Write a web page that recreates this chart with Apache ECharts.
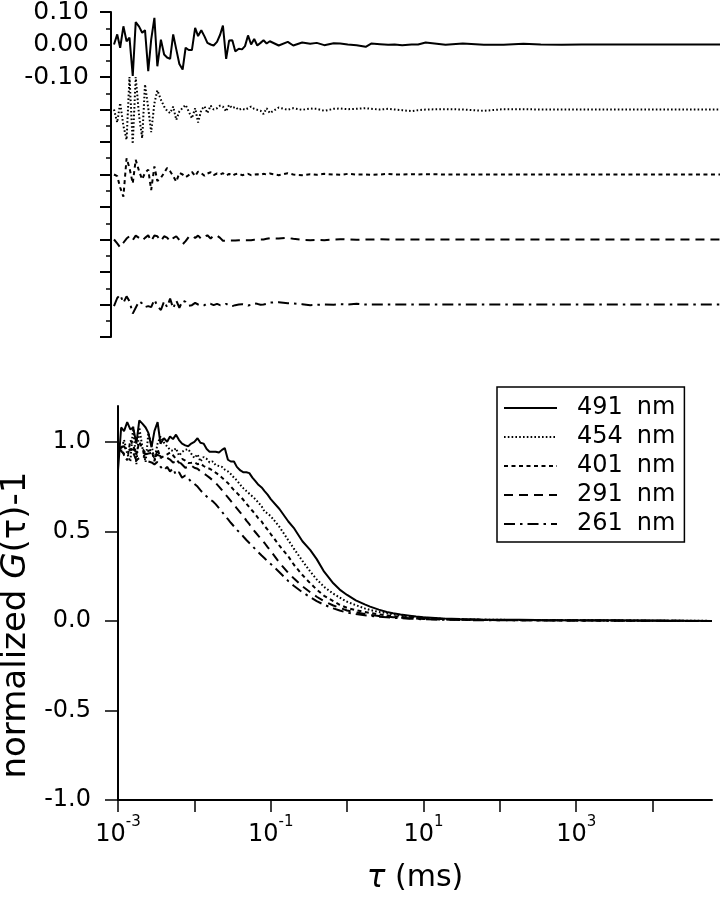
<!DOCTYPE html>
<html>
<head>
<meta charset="utf-8">
<script src="https://cdn.jsdelivr.net/npm/echarts@6/dist/echarts.min.js"></script>
<style>
html,body{margin:0;padding:0;background:#fff;}
#chart{width:723px;height:899px;}
</style>
</head>
<body>
<div id="chart"></div>
<script>
// lag time tau (ms)
const tau = [
  0.001,0.0011,0.0012,0.00132,0.00145,0.00158,0.00174,0.0019,0.0021,0.0023,0.0025,0.00275,0.003,0.0033,0.0036,0.004,0.0044,0.0048,0.00525,0.00575,0.0063,0.0069,0.0076,0.0083,0.0091,
  0.01,0.011,0.012,0.0132,0.0145,0.0158,0.0174,0.019,0.021,0.023,0.025,0.0275,0.03,0.033,0.036,0.04,0.044,0.048,0.0525,0.0575,0.063,0.069,0.076,0.083,0.091,
  0.1,0.13,0.17,0.2,0.26,0.33,0.4,0.5,0.66,0.8,1,1.3,1.7,2,2.6,3.3,4,5,6.6,8,
  10,18,30,56,100,180,300,560,1000,1800,3000,5600,10000,18000,30000,60000
];
const names = ['491 nm','454 nm','401 nm','291 nm','261 nm'];
// normalized G(tau)-1
const g491 = [0.84,1.08,1.06,1.11,1.07,1.08,0.99,1.12,1.10,1.08,1.05,0.97,1.06,1.11,0.99,1.02,1.00,1.03,1.015,1.04,1.01,0.99,0.98,0.975,0.99,
  1.00,1.02,0.995,0.99,0.96,0.945,0.945,0.945,0.94,0.955,0.965,0.90,0.89,0.89,0.86,0.84,0.83,0.83,0.825,0.80,0.78,0.76,0.745,0.725,0.705,
  0.68,0.625,0.555,0.52,0.445,0.395,0.345,0.275,0.21,0.175,0.145,0.115,0.092,0.08,0.063,0.05,0.043,0.036,0.029,0.024,
  0.02,0.013,0.01,0.008,0.007,0.006,0.005,0.004,0.004,0.003,0.003,0.002,0.002,0.001,0.001,0.0];
const g454 = [0.99,0.95,1.01,0.935,0.89,1.085,0.875,1.08,0.96,0.887,1.05,0.98,0.90,0.99,1.03,0.995,0.974,0.956,0.949,0.964,0.923,0.944,0.955,0.959,0.934,
  0.91,0.93,0.89,0.915,0.905,0.885,0.89,0.87,0.865,0.86,0.845,0.835,0.82,0.80,0.785,0.76,0.74,0.725,0.71,0.695,0.68,0.66,0.64,0.61,0.60,
  0.585,0.525,0.45,0.405,0.335,0.275,0.232,0.19,0.152,0.13,0.107,0.088,0.07,0.061,0.05,0.043,0.037,0.031,0.025,0.021,
  0.018,0.012,0.009,0.007,0.006,0.005,0.004,0.004,0.003,0.003,0.002,0.002,0.001,0.001,0.001,0.0];
const g401 = [0.97,0.965,0.925,0.897,1.01,0.98,0.928,1.00,0.96,0.935,0.95,0.955,0.892,0.96,0.91,0.92,0.93,0.94,0.925,0.905,0.883,0.905,0.895,0.882,0.883,
  0.885,0.875,0.88,0.865,0.855,0.85,0.84,0.828,0.815,0.80,0.785,0.77,0.75,0.73,0.715,0.695,0.675,0.655,0.635,0.615,0.595,0.572,0.555,0.53,0.51,
  0.485,0.42,0.36,0.315,0.256,0.21,0.175,0.14,0.11,0.09,0.073,0.06,0.05,0.044,0.037,0.031,0.027,0.023,0.019,0.016,
  0.014,0.01,0.008,0.006,0.005,0.004,0.004,0.003,0.003,0.002,0.002,0.002,0.001,0.001,0.0,0.0];
const g291 = [0.965,0.948,0.934,0.945,0.953,0.958,0.943,0.952,0.942,0.930,0.935,0.938,0.915,0.927,0.92,0.901,0.91,0.901,0.885,0.889,0.89,0.873,0.855,0.86,0.868,
  0.855,0.85,0.835,0.825,0.812,0.80,0.785,0.77,0.75,0.73,0.71,0.69,0.67,0.648,0.628,0.605,0.585,0.56,0.54,0.515,0.495,0.475,0.455,0.435,0.412,
  0.39,0.325,0.268,0.238,0.193,0.16,0.135,0.11,0.086,0.073,0.058,0.048,0.039,0.034,0.028,0.024,0.021,0.018,0.015,0.013,
  0.011,0.008,0.006,0.005,0.004,0.004,0.003,0.003,0.002,0.002,0.002,0.001,0.001,0.001,0.0,0.0];
const g261 = [0.95,0.97,0.975,0.945,0.96,0.94,0.897,0.91,0.922,0.908,0.89,0.885,0.874,0.889,0.861,0.841,0.86,0.834,0.852,0.814,0.83,0.80,0.812,0.798,0.776,
  0.765,0.75,0.73,0.71,0.695,0.68,0.668,0.652,0.63,0.61,0.588,0.568,0.548,0.528,0.508,0.49,0.47,0.452,0.435,0.418,0.40,0.383,0.365,0.35,0.332,
  0.318,0.272,0.222,0.196,0.16,0.132,0.11,0.09,0.07,0.058,0.046,0.038,0.031,0.028,0.023,0.02,0.017,0.015,0.012,0.011,
  0.009,0.007,0.005,0.004,0.004,0.003,0.003,0.002,0.002,0.002,0.001,0.001,0.001,0.0,0.0,0.0];
// fit residuals
const r491 = [0.0,0.031,-0.010,0.056,0.010,0.021,-0.097,0.069,0.055,0.036,0.044,-0.082,0.015,0.082,-0.067,0.015,-0.031,-0.040,-0.044,0.031,-0.015,-0.060,-0.077,-0.010,-0.017,
  -0.017,0.051,0.026,0.044,0.025,0.005,0.0,-0.003,0.008,0.030,0.058,-0.044,0.012,0.013,-0.021,-0.013,-0.015,-0.005,0.028,0.0,0.017,-0.003,0.005,0.013,0.003,
  0.010,-0.003,0.008,-0.003,0.006,0.002,0.005,-0.002,0.004,0.003,0.0,-0.002,-0.007,0.003,0.001,-0.001,0.0,-0.002,0.0,0.0,
  0.006,-0.001,0.003,-0.001,-0.001,0.002,0.0,-0.001,0,0,0,0,0,0,0,0];
const r454 = [0.0,-0.040,0.020,-0.050,-0.093,0.100,-0.106,0.100,-0.020,-0.088,0.077,0.005,-0.070,0.019,0.059,0.030,0.009,-0.004,-0.011,0.009,-0.032,-0.006,0.005,0.014,-0.006,
  -0.027,0.004,-0.040,-0.001,0.010,-0.011,0.012,0.000,0.004,0.012,0.009,-0.006,0.014,0.004,0.008,-0.001,0.003,-0.001,0.004,0.009,0.002,-0.001,-0.004,-0.014,0.004,
  -0.011,0.006,-0.001,0.004,-0.001,0.003,0.002,-0.004,0.002,0.003,0.001,0.002,0.004,0.002,0.0,0.002,0.0,-0.002,-0.005,-0.002,
  0.0,0.001,0.0,-0.004,0.001,0.001,0,0,0,0,0,0,0,0,0,0];
const r401 = [0.0,-0.005,-0.040,-0.068,0.050,0.020,-0.027,0.045,0.010,-0.015,0.005,0.015,-0.048,0.025,-0.020,-0.010,0.005,0.020,0.010,-0.005,-0.022,0.005,0.0,-0.008,-0.002,
  0.008,-0.005,0.009,0.004,-0.004,0.003,0.007,-0.002,0.003,0.0,0.004,-0.003,0.002,-0.004,0.001,0.003,-0.002,0.0,0.002,-0.002,0.0,0.001,-0.001,0.002,0.0,
  0.003,-0.002,0.004,0.0,-0.002,0.001,-0.001,0.002,0.0,-0.001,0.002,0.0,0.0,-0.001,0.0,0.002,0.0,0.0,0.001,0.0,
  0.001,0,0,0,0,0,0,0,0,0,0,0,0,0,0,0];
const r291 = [0.0,-0.012,-0.024,-0.010,0.003,0.010,-0.002,0.012,0.005,-0.003,0.005,0.013,-0.005,0.012,0.010,-0.004,0.010,0.006,-0.005,0.004,0.010,-0.002,-0.015,-0.005,0.008,
  0.012,0.005,0.012,0.002,0.008,0.013,0.003,0.012,0.012,0.005,-0.004,-0.004,-0.003,-0.003,-0.003,-0.002,-0.002,-0.002,-0.002,-0.002,-0.001,-0.001,0.0,0.0,0.002,
  0.004,0.003,0.005,0.002,-0.001,-0.002,-0.001,-0.002,0.0,0.001,0.0,-0.001,0.0,0.0,0.001,0,0,0,0,0,
  0,0,0,0,0,0,0,0,0,0,0,0,0,0,0,0];
const r261 = [-0.005,0.020,0.030,0.005,0.025,0.010,-0.028,-0.010,0.010,0.003,-0.008,-0.005,-0.008,0.015,-0.005,-0.017,0.010,-0.008,0.018,-0.012,0.012,-0.010,0.012,0.008,-0.004,
  -0.002,0.005,0.0,-0.004,-0.002,0.004,0.002,-0.002,0.002,-0.002,-0.002,0.002,-0.003,-0.005,-0.002,0.0,0.001,0.0,-0.003,-0.001,0.003,0.002,-0.001,0.0,0.002,
  0.006,0.007,0.004,0.003,0.001,-0.002,-0.001,0.0,-0.001,0.001,0.0,0.002,0.0,0.0,0.0,0,0,0,0,0,
  0,0,0,0,0,0,0,0,0,0,0,0,0,0,0,0];
// vertical offsets of the residual traces
const residualOffsets = [0, -0.2, -0.4, -0.6, -0.8];
const residualTicks = [0.1, 0, -0.1];
const yTicks = [-1, -0.5, 0, 0.5, 1];
const xTicks = [0.001, 0.01, 0.1, 1, 10, 100, 1000, 10000];
const xLabels = [0.001, 0.1, 10, 1000];

const curves = [g491, g454, g401, g291, g261];
const residuals = [r491, r454, r401, r291, r261];
const dashes = ['solid', [1.6, 2.2], [4, 3.5], [9, 6], [11, 5, 2.5, 5]];
const FF = 'DejaVu Sans';

const series = [];
names.forEach((n, k) => {
  series.push({
    name: n, type: 'line', xAxisIndex: 0, yAxisIndex: 0,
    showSymbol: false, symbol: 'none', silent: true,
    itemStyle: { color: '#000' },
    lineStyle: { color: '#000', width: 2, type: dashes[k] },
    data: tau.map((t, i) => [t, residuals[k][i] + residualOffsets[k]])
  });
});
names.forEach((n, k) => {
  series.push({
    name: n, type: 'line', xAxisIndex: 1, yAxisIndex: 1,
    showSymbol: false, symbol: 'none', silent: true,
    itemStyle: { color: '#000' },
    lineStyle: { color: '#000', width: 2, type: dashes[k] },
    data: tau.map((t, i) => [t, curves[k][i]])
  });
});

const chart = echarts.init(document.getElementById('chart'), null, { renderer: 'canvas' });
chart.setOption({
  animation: false,
  backgroundColor: '#fff',
  grid: [
    { left: 111, right: 3, top: 12, height: 325, containLabel: false, outerBoundsMode: 'none' },
    { left: 118, right: 11, top: 406, bottom: 99, containLabel: false, outerBoundsMode: 'none' }
  ],
  xAxis: [
    { type: 'log', gridIndex: 0, min: 0.000915, max: 60000, show: false },
    { type: 'log', gridIndex: 1, min: 0.001, max: 60000,
      axisLine: { onZero: false, lineStyle: { color: '#000', width: 2 } },
      axisTick: { show: true, length: 12, customValues: xTicks, lineStyle: { color: '#000', width: 1.5 } },
      splitLine: { show: false },
      axisLabel: {
        customValues: xLabels, margin: 15, color: '#000', fontFamily: FF,
        formatter: v => '{b|10}{s|' + Math.round(Math.log10(v)) + '}',
        rich: {
          b: { fontSize: 24, fontFamily: FF, color: '#000', lineHeight: 32, verticalAlign: 'bottom' },
          s: { fontSize: 15, fontFamily: FF, color: '#000', lineHeight: 15, verticalAlign: 'top' }
        }
      },
      name: '{i|τ}{a| (ms)}', nameLocation: 'middle', nameGap: 63,
      nameTextStyle: { rich: {
        i: { fontSize: 31, fontFamily: FF, fontStyle: 'italic', color: '#000' },
        a: { fontSize: 30, fontFamily: FF, color: '#000' }
      } }
    }
  ],
  yAxis: [
    { type: 'value', gridIndex: 0, min: -0.9, max: 0.1, interval: 0.1,
      axisLine: { show: true, onZero: false, lineStyle: { color: '#000', width: 2 } },
      axisTick: { show: true, length: 11, lineStyle: { color: '#000', width: 2 } },
      minorTick: { show: true, splitNumber: 2, length: 5, lineStyle: { color: '#000', width: 1.5 } },
      splitLine: { show: false },
      axisLabel: { customValues: residualTicks, margin: 22, color: '#000', fontFamily: FF, fontSize: 25,
        formatter: v => v.toFixed(2) }
    },
    { type: 'value', gridIndex: 1, min: -1, max: 1.2, interval: 0.5,
      axisLine: { show: true, onZero: false, lineStyle: { color: '#000', width: 2 } },
      axisTick: { show: true, length: 13, customValues: yTicks, lineStyle: { color: '#000', width: 1.5 } },
      splitLine: { show: false },
      axisLabel: { customValues: yTicks, margin: 27, color: '#000', fontFamily: FF, fontSize: 24,
        formatter: v => v.toFixed(1) },
      name: '{a|normalized }{i|G}{a|(τ)-1}', nameLocation: 'middle', nameGap: 82,
      nameTextStyle: { padding: [0, 44, 0, 0], rich: {
        a: { fontSize: 34, fontFamily: FF, color: '#000' },
        i: { fontSize: 34, fontFamily: FF, fontStyle: 'italic', color: '#000' }
      } }
    }
  ],
  legend: {
    data: names, orient: 'vertical', left: 497, top: 387,
    itemWidth: 53, itemHeight: 14, itemGap: 5,
    padding: [9, 9, 6, 6], borderColor: '#000', borderWidth: 1.5,
    selectedMode: false, inactiveColor: '#000',
    itemStyle: { opacity: 0, borderWidth: 0 },
    formatter: n => '{n|' + n.split(' ')[0] + '}{u|' + n.split(' ')[1] + '}',
    textStyle: { color: '#000', fontFamily: FF, fontSize: 24, rich: {
      n: { fontSize: 24, fontFamily: FF, color: '#000', lineHeight: 24.5, padding: [0, 0, 0, 15] },
      u: { fontSize: 24, fontFamily: FF, color: '#000', lineHeight: 24.5, padding: [0, 0, 0, 14] }
    } }
  },
  series: series
});
</script>
</body>
</html>
